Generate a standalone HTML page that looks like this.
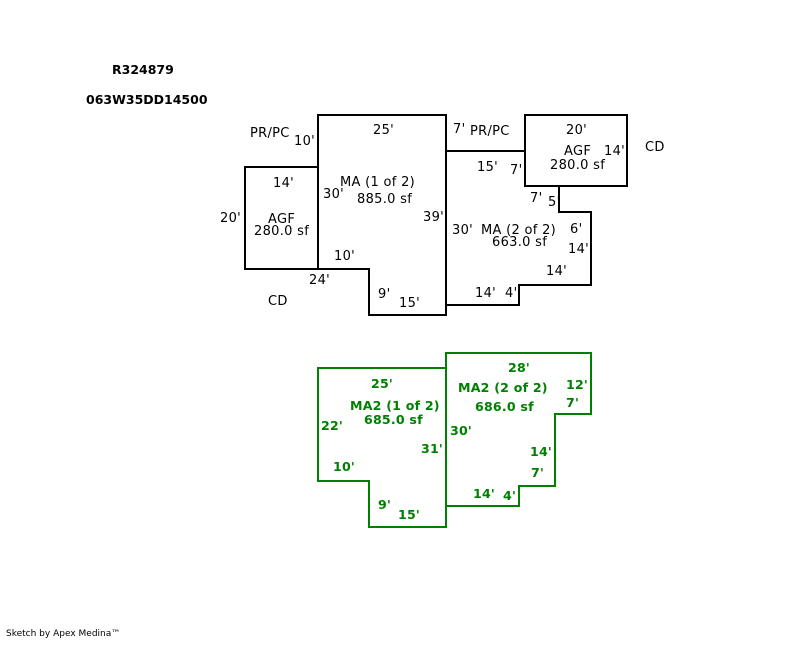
<!DOCTYPE html>
<html><head><style>
body{margin:0;background:#fff;width:800px;height:640px;overflow:hidden}
svg text{font-family:"DejaVu Sans","Liberation Sans",sans-serif;font-size:13px;letter-spacing:0.3px}
.g text{fill:#008000;font-weight:bold;font-size:12.6px;letter-spacing:0.2px}
</style></head><body>
<svg width="800" height="640" xmlns="http://www.w3.org/2000/svg">
<g fill="none" stroke="#000" stroke-width="2">
<polygon points="318,115 446,115 446,315 369,315 369,269 318,269"/>
<rect x="245" y="167" width="73" height="102"/>
<polyline points="446,151 525,151"/>
<rect x="525" y="115" width="102" height="71"/>
<polyline points="559,186 559,212 591,212 591,285 519,285 519,305 446,305"/>
</g>
<g fill="none" stroke="#008000" stroke-width="2">
<polygon points="318,368 446,368 446,527 369,527 369,481 318,481"/>
<polyline points="446,368 446,353 591,353 591,414 555,414 555,486 519,486 519,506 446,506"/>
</g>
<text x="112" y="74" style="font-weight:bold;font-size:12.5px;letter-spacing:0">R324879</text>
<text x="86" y="104" style="font-weight:bold;font-size:12.5px;letter-spacing:0">063W35DD14500</text>
<text x="250" y="137">PR/PC</text>
<text x="294" y="145">10'</text>
<text x="373" y="134">25'</text>
<text x="453" y="133">7'</text>
<text x="470" y="135">PR/PC</text>
<text x="566" y="134">20'</text>
<text x="564" y="155">AGF</text>
<text x="604" y="155">14'</text>
<text x="550" y="169">280.0 sf</text>
<text x="645" y="151">CD</text>
<text x="477" y="171">15'</text>
<text x="510" y="174">7'</text>
<text x="273" y="187">14'</text>
<text x="340" y="186">MA (1 of 2)</text>
<text x="323" y="198">30'</text>
<text x="357" y="203">885.0 sf</text>
<text x="530" y="202">7'</text>
<text x="548" y="206">5'</text>
<text x="220" y="222">20'</text>
<text x="268" y="223">AGF</text>
<text x="254" y="235">280.0 sf</text>
<text x="423" y="221">39'</text>
<text x="452" y="234">30'</text>
<text x="481" y="234">MA (2 of 2)</text>
<text x="570" y="233">6'</text>
<text x="492" y="246">663.0 sf</text>
<text x="568" y="253">14'</text>
<text x="334" y="260">10'</text>
<text x="546" y="275">14'</text>
<text x="309" y="284">24'</text>
<text x="268" y="305">CD</text>
<text x="378" y="298">9'</text>
<text x="399" y="307">15'</text>
<text x="475" y="297">14'</text>
<text x="505" y="297">4'</text>
<g class="g">
<text x="508" y="372">28'</text>
<text x="371" y="388">25'</text>
<text x="458" y="392">MA2 (2 of 2)</text>
<text x="566" y="389">12'</text>
<text x="566" y="407">7'</text>
<text x="475" y="411">686.0 sf</text>
<text x="350" y="410">MA2 (1 of 2)</text>
<text x="364" y="424">685.0 sf</text>
<text x="321" y="430">22'</text>
<text x="450" y="435">30'</text>
<text x="421" y="453">31'</text>
<text x="530" y="456">14'</text>
<text x="333" y="471">10'</text>
<text x="531" y="477">7'</text>
<text x="473" y="498">14'</text>
<text x="503" y="500">4'</text>
<text x="378" y="509">9'</text>
<text x="398" y="519">15'</text>
</g>
<text x="6" y="636" style="font-size:9px;letter-spacing:0">Sketch by Apex Medina™</text>
</svg>
</body></html>
